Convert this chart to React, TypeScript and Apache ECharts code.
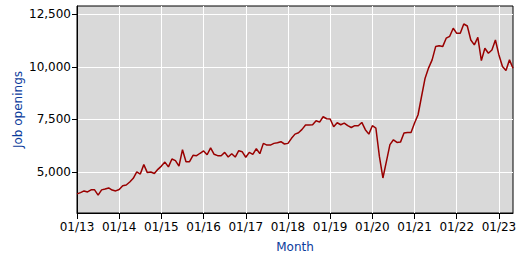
import { useEffect, useRef } from 'react';
import * as echarts from 'echarts';

// Monthly job openings (thousands), Jan 2013 .. May 2023
const v2013 = [3960, 4020, 4100, 4050, 4150, 4150, 3900, 4150, 4190, 4240, 4140, 4100];
const v2014 = [4170, 4350, 4380, 4525, 4700, 5000, 4900, 5350, 4970, 5000, 4925, 5125];
const v2015 = [5280, 5470, 5240, 5615, 5540, 5280, 6060, 5490, 5490, 5790, 5775, 5890];
const v2016 = [6000, 5820, 6150, 5840, 5775, 5775, 5930, 5710, 5870, 5710, 6010, 5960];
const v2017 = [5700, 5930, 5840, 6105, 5870, 6360, 6280, 6280, 6360, 6390, 6440, 6330];
const v2018 = [6360, 6600, 6800, 6865, 7025, 7230, 7230, 7250, 7435, 7370, 7625, 7530];
const v2019 = [7520, 7150, 7340, 7245, 7325, 7200, 7115, 7200, 7200, 7355, 7010, 6800];
const v2020 = [7200, 7090, 5740, 4715, 5500, 6300, 6530, 6405, 6420, 6850, 6880, 6880];
const v2021 = [7325, 7720, 8600, 9460, 9950, 10330, 10960, 11000, 10960, 11360, 11450, 11830];
const v2022 = [11590, 11590, 12035, 11940, 11275, 11040, 11400, 10295, 10880, 10645, 10800, 11275];
const v2023 = [10560, 10010, 9820, 10330, 9930];

const openings = [
  ...v2013, ...v2014, ...v2015, ...v2016, ...v2017, ...v2018,
  ...v2019, ...v2020, ...v2021, ...v2022, ...v2023,
];

const xTickMonths = [0, 12, 24, 36, 48, 60, 72, 84, 96, 108, 120];
const xTickLabels = ['01/13', '01/14', '01/15', '01/16', '01/17', '01/18', '01/19', '01/20', '01/21', '01/22', '01/23'];
const yTicks = [5000, 7500, 10000, 12500];

const FONT = 'DejaVu Sans';

export default function App() {
  const ref = useRef<HTMLDivElement>(null);
  useEffect(() => {
    const chart = echarts.init(ref.current!, null, { renderer: 'svg' });
    chart.setOption({
      animation: false,
      backgroundColor: '#ffffff',
      grid: {
        left: 77,
        top: 6,
        width: 436,
        height: 207,
        show: true,
        backgroundColor: '#d9d9d9',
        borderColor: '#000000',
        borderWidth: 1,
      },
      xAxis: {
        type: 'value',
        min: 0,
        max: openings.length - 1,
        name: 'Month',
        nameLocation: 'middle',
        nameGap: 28,
        nameMoveOverlap: false,
        nameTextStyle: { color: '#0b3c9c', fontFamily: FONT, fontSize: 12 },
        axisLine: { show: true, lineStyle: { color: '#000', width: 1 } },
        axisTick: { show: true, length: 6, customValues: xTickMonths, lineStyle: { color: '#000' } },
        axisLabel: {
          customValues: xTickMonths,
          margin: 8,
          color: '#000',
          fontFamily: FONT,
          fontSize: 12,
          formatter: (v: number) => {
            const i = xTickMonths.indexOf(v);
            return i >= 0 ? xTickLabels[i] : '';
          },
        },
        splitLine: { show: true, lineStyle: { color: '#ffffff', width: 1 } },
      },
      yAxis: {
        type: 'value',
        min: 3050,
        max: 12890,
        name: 'Job openings',
        nameLocation: 'middle',
        nameGap: 53,
        nameMoveOverlap: false,
        nameTextStyle: { color: '#0b3c9c', fontFamily: FONT, fontSize: 12 },
        axisLine: { show: true, lineStyle: { color: '#000', width: 1 } },
        axisTick: { show: true, length: 5, customValues: yTicks, lineStyle: { color: '#000' } },
        axisLabel: {
          customValues: yTicks,
          margin: 6,
          color: '#000',
          fontFamily: FONT,
          fontSize: 12,
          formatter: (v: number) => v.toLocaleString('en-US'),
        },
        splitLine: { show: true, lineStyle: { color: '#ffffff', width: 1 } },
      },
      series: [
        {
          type: 'line',
          data: openings.map((v, i) => [i, v]),
          showSymbol: false,
          symbol: 'none',
          lineStyle: { color: '#990000', width: 1.5 },
        },
      ],
    });
    return () => chart.dispose();
  }, []);
  return (
    <div
      ref={ref}
      style={{ position: 'absolute', left: 0, top: 0, width: 528, height: 262 }}
    />
  );
}
